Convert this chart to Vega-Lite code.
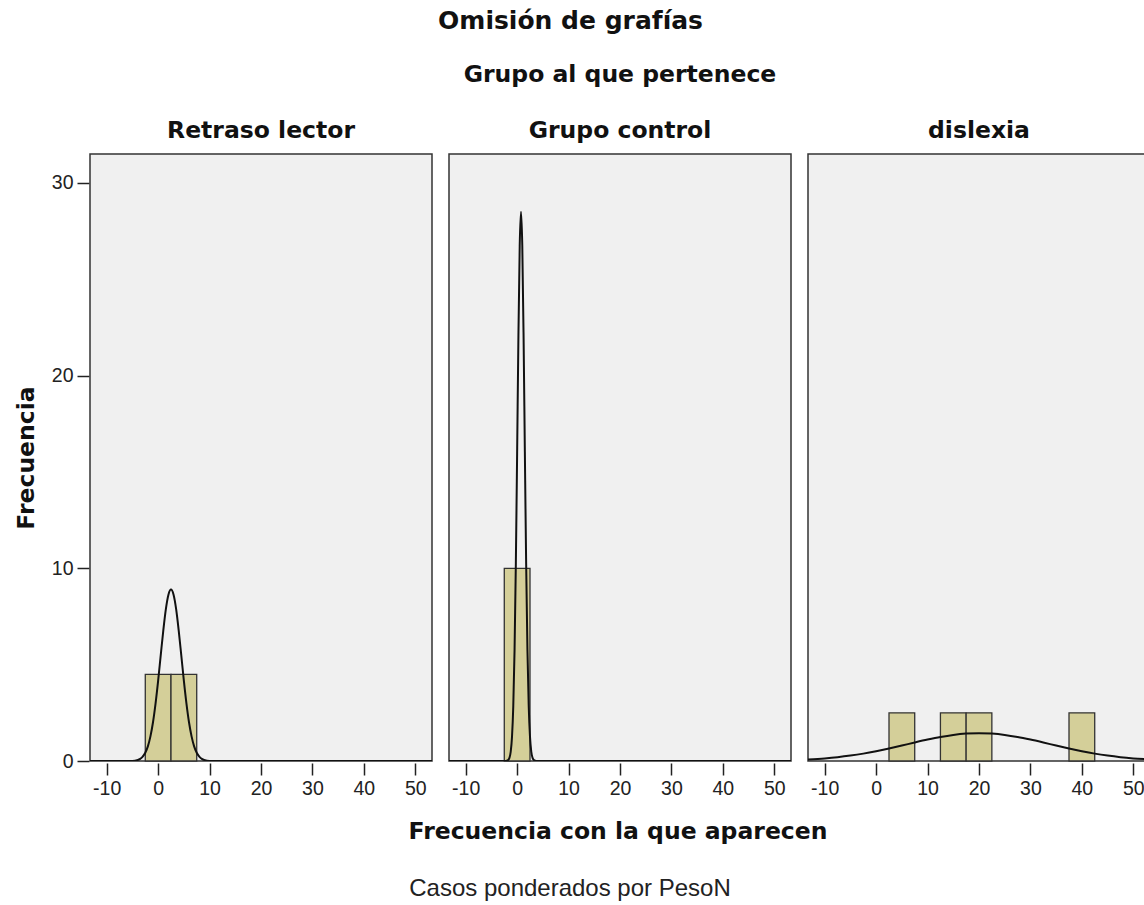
{
  "$schema": "https://vega.github.io/schema/vega-lite/v6.json",
  "background": "white",
  "padding": {"left": 14, "top": 8, "right": 0, "bottom": 0},
  "title": {"text": "Omisión de grafías", "anchor": "middle", "frame": "bounds", "font": "DejaVu Sans", "fontSize": 25, "fontWeight": "bold", "color": "#111", "dx": -12, "offset": 29},
  "datasets": {
    "main": [
      {"grupo": "Retraso lector", "tipo": "barra", "desde": -2.5, "hasta": 2.5, "frecuencia": 4.5},
      {"grupo": "Retraso lector", "tipo": "barra", "desde": 2.5, "hasta": 7.5, "frecuencia": 4.5},
      {"grupo": "Grupo control", "tipo": "barra", "desde": -2.5, "hasta": 2.5, "frecuencia": 10},
      {"grupo": "dislexia", "tipo": "barra", "desde": 2.5, "hasta": 7.5, "frecuencia": 2.5},
      {"grupo": "dislexia", "tipo": "barra", "desde": 12.5, "hasta": 17.5, "frecuencia": 2.5},
      {"grupo": "dislexia", "tipo": "barra", "desde": 17.5, "hasta": 22.5, "frecuencia": 2.5},
      {"grupo": "dislexia", "tipo": "barra", "desde": 37.5, "hasta": 42.5, "frecuencia": 2.5},

      {"grupo": "Retraso lector", "tipo": "curva", "valor": -13.25, "densidad": 0},
      {"grupo": "Retraso lector", "tipo": "curva", "valor": -5.5, "densidad": 0},
      {"grupo": "Retraso lector", "tipo": "curva", "valor": -4.5, "densidad": 0.02},
      {"grupo": "Retraso lector", "tipo": "curva", "valor": -3.5, "densidad": 0.11},
      {"grupo": "Retraso lector", "tipo": "curva", "valor": -3, "densidad": 0.23},
      {"grupo": "Retraso lector", "tipo": "curva", "valor": -2.5, "densidad": 0.43},
      {"grupo": "Retraso lector", "tipo": "curva", "valor": -2, "densidad": 0.76},
      {"grupo": "Retraso lector", "tipo": "curva", "valor": -1.5, "densidad": 1.28},
      {"grupo": "Retraso lector", "tipo": "curva", "valor": -1, "densidad": 2.01},
      {"grupo": "Retraso lector", "tipo": "curva", "valor": -0.5, "densidad": 2.99},
      {"grupo": "Retraso lector", "tipo": "curva", "valor": 0, "densidad": 4.17},
      {"grupo": "Retraso lector", "tipo": "curva", "valor": 0.5, "densidad": 5.48},
      {"grupo": "Retraso lector", "tipo": "curva", "valor": 1, "densidad": 6.77},
      {"grupo": "Retraso lector", "tipo": "curva", "valor": 1.5, "densidad": 7.88},
      {"grupo": "Retraso lector", "tipo": "curva", "valor": 2, "densidad": 8.63},
      {"grupo": "Retraso lector", "tipo": "curva", "valor": 2.5, "densidad": 8.9},
      {"grupo": "Retraso lector", "tipo": "curva", "valor": 3, "densidad": 8.63},
      {"grupo": "Retraso lector", "tipo": "curva", "valor": 3.5, "densidad": 7.88},
      {"grupo": "Retraso lector", "tipo": "curva", "valor": 4, "densidad": 6.77},
      {"grupo": "Retraso lector", "tipo": "curva", "valor": 4.5, "densidad": 5.48},
      {"grupo": "Retraso lector", "tipo": "curva", "valor": 5, "densidad": 4.17},
      {"grupo": "Retraso lector", "tipo": "curva", "valor": 5.5, "densidad": 2.99},
      {"grupo": "Retraso lector", "tipo": "curva", "valor": 6, "densidad": 2.01},
      {"grupo": "Retraso lector", "tipo": "curva", "valor": 6.5, "densidad": 1.28},
      {"grupo": "Retraso lector", "tipo": "curva", "valor": 7, "densidad": 0.76},
      {"grupo": "Retraso lector", "tipo": "curva", "valor": 7.5, "densidad": 0.43},
      {"grupo": "Retraso lector", "tipo": "curva", "valor": 8, "densidad": 0.23},
      {"grupo": "Retraso lector", "tipo": "curva", "valor": 8.5, "densidad": 0.11},
      {"grupo": "Retraso lector", "tipo": "curva", "valor": 9.5, "densidad": 0.02},
      {"grupo": "Retraso lector", "tipo": "curva", "valor": 10.5, "densidad": 0},
      {"grupo": "Retraso lector", "tipo": "curva", "valor": 53.25, "densidad": 0},

      {"grupo": "Grupo control", "tipo": "curva", "valor": -13.25, "densidad": 0},
      {"grupo": "Grupo control", "tipo": "curva", "valor": -2.25, "densidad": 0},
      {"grupo": "Grupo control", "tipo": "curva", "valor": -1.75, "densidad": 0.05},
      {"grupo": "Grupo control", "tipo": "curva", "valor": -1.5, "densidad": 0.16},
      {"grupo": "Grupo control", "tipo": "curva", "valor": -1.25, "densidad": 0.48},
      {"grupo": "Grupo control", "tipo": "curva", "valor": -1, "densidad": 1.25},
      {"grupo": "Grupo control", "tipo": "curva", "valor": -0.75, "densidad": 2.87},
      {"grupo": "Grupo control", "tipo": "curva", "valor": -0.5, "densidad": 5.79},
      {"grupo": "Grupo control", "tipo": "curva", "valor": -0.25, "densidad": 10.27},
      {"grupo": "Grupo control", "tipo": "curva", "valor": 0, "densidad": 16.05},
      {"grupo": "Grupo control", "tipo": "curva", "valor": 0.25, "densidad": 22.08},
      {"grupo": "Grupo control", "tipo": "curva", "valor": 0.5, "densidad": 26.74},
      {"grupo": "Grupo control", "tipo": "curva", "valor": 0.75, "densidad": 28.5},
      {"grupo": "Grupo control", "tipo": "curva", "valor": 1, "densidad": 26.74},
      {"grupo": "Grupo control", "tipo": "curva", "valor": 1.25, "densidad": 22.08},
      {"grupo": "Grupo control", "tipo": "curva", "valor": 1.5, "densidad": 16.05},
      {"grupo": "Grupo control", "tipo": "curva", "valor": 1.75, "densidad": 10.27},
      {"grupo": "Grupo control", "tipo": "curva", "valor": 2, "densidad": 5.79},
      {"grupo": "Grupo control", "tipo": "curva", "valor": 2.25, "densidad": 2.87},
      {"grupo": "Grupo control", "tipo": "curva", "valor": 2.5, "densidad": 1.25},
      {"grupo": "Grupo control", "tipo": "curva", "valor": 2.75, "densidad": 0.48},
      {"grupo": "Grupo control", "tipo": "curva", "valor": 3, "densidad": 0.16},
      {"grupo": "Grupo control", "tipo": "curva", "valor": 3.25, "densidad": 0.05},
      {"grupo": "Grupo control", "tipo": "curva", "valor": 3.75, "densidad": 0},
      {"grupo": "Grupo control", "tipo": "curva", "valor": 53.25, "densidad": 0},

      {"grupo": "dislexia", "tipo": "curva", "valor": -13.25, "densidad": 0.079},
      {"grupo": "dislexia", "tipo": "curva", "valor": -10, "densidad": 0.136},
      {"grupo": "dislexia", "tipo": "curva", "valor": -7.5, "densidad": 0.198},
      {"grupo": "dislexia", "tipo": "curva", "valor": -5, "densidad": 0.28},
      {"grupo": "dislexia", "tipo": "curva", "valor": -2.5, "densidad": 0.382},
      {"grupo": "dislexia", "tipo": "curva", "valor": 0, "densidad": 0.506},
      {"grupo": "dislexia", "tipo": "curva", "valor": 2.5, "densidad": 0.647},
      {"grupo": "dislexia", "tipo": "curva", "valor": 5, "densidad": 0.8},
      {"grupo": "dislexia", "tipo": "curva", "valor": 7.5, "densidad": 0.959},
      {"grupo": "dislexia", "tipo": "curva", "valor": 10, "densidad": 1.111},
      {"grupo": "dislexia", "tipo": "curva", "valor": 12.5, "densidad": 1.247},
      {"grupo": "dislexia", "tipo": "curva", "valor": 15, "densidad": 1.353},
      {"grupo": "dislexia", "tipo": "curva", "valor": 17.5, "densidad": 1.421},
      {"grupo": "dislexia", "tipo": "curva", "valor": 20, "densidad": 1.445},
      {"grupo": "dislexia", "tipo": "curva", "valor": 22.5, "densidad": 1.421},
      {"grupo": "dislexia", "tipo": "curva", "valor": 25, "densidad": 1.353},
      {"grupo": "dislexia", "tipo": "curva", "valor": 27.5, "densidad": 1.247},
      {"grupo": "dislexia", "tipo": "curva", "valor": 30, "densidad": 1.111},
      {"grupo": "dislexia", "tipo": "curva", "valor": 32.5, "densidad": 0.959},
      {"grupo": "dislexia", "tipo": "curva", "valor": 35, "densidad": 0.8},
      {"grupo": "dislexia", "tipo": "curva", "valor": 37.5, "densidad": 0.647},
      {"grupo": "dislexia", "tipo": "curva", "valor": 40, "densidad": 0.506},
      {"grupo": "dislexia", "tipo": "curva", "valor": 42.5, "densidad": 0.382},
      {"grupo": "dislexia", "tipo": "curva", "valor": 45, "densidad": 0.28},
      {"grupo": "dislexia", "tipo": "curva", "valor": 47.5, "densidad": 0.198},
      {"grupo": "dislexia", "tipo": "curva", "valor": 50, "densidad": 0.136},
      {"grupo": "dislexia", "tipo": "curva", "valor": 53.25, "densidad": 0.079}
    ]
  },
  "spacing": 21,
  "vconcat": [
    {
      "data": {"name": "main"},
      "spacing": 15,
      "facet": {
        "column": {
          "field": "grupo",
          "type": "nominal",
          "sort": ["Retraso lector", "Grupo control", "dislexia"],
          "title": "Grupo al que pertenece"
        }
      },
      "spec": {
        "width": 342,
        "height": 607,
        "layer": [
          {
            "transform": [{"filter": "datum.tipo === 'barra'"}],
            "mark": {"type": "rect", "fill": "#d4cf99", "stroke": "#333", "strokeWidth": 1.3},
            "encoding": {
              "x": {
                "field": "desde",
                "type": "quantitative",
                "scale": {"domain": [-13.25, 53.25], "nice": false, "zero": false},
                "axis": {"title": null, "values": [-10, 0, 10, 20, 30, 40, 50], "labelExpr": "replace(datum.label, '\u2212', '-')"}
              },
              "x2": {"field": "hasta"},
              "y": {
                "field": "frecuencia",
                "type": "quantitative",
                "scale": {"domain": [0, 31.5], "nice": false},
                "axis": {"title": "Frecuencia", "values": [0, 10, 20, 30]}
              },
              "y2": {"datum": 0}
            }
          },
          {
            "transform": [{"filter": "datum.tipo === 'curva'"}],
            "mark": {"type": "line", "color": "#111", "strokeWidth": 2, "interpolate": "monotone", "clip": true},
            "encoding": {
              "x": {"field": "valor", "type": "quantitative", "axis": {"title": null, "values": [-10, 0, 10, 20, 30, 40, 50], "labelExpr": "replace(datum.label, '\u2212', '-')"}},
              "y": {"field": "densidad", "type": "quantitative", "axis": {"title": "Frecuencia", "values": [0, 10, 20, 30]}},
              "order": {"field": "valor", "type": "quantitative"}
            }
          }
        ]
      }
    },
    {
      "data": {"values": [{"nota": "Casos ponderados por PesoN"}]},
      "width": 960,
      "height": 24,
      "view": {"stroke": null, "fill": null},
      "title": {"text": "Frecuencia con la que aparecen", "anchor": "middle", "frame": "group", "font": "DejaVu Sans", "fontSize": 23.5, "fontWeight": "bold", "color": "#111", "dx": 48, "offset": 34},
      "mark": {"type": "text", "font": "Liberation Sans", "fontSize": 24, "color": "#222", "baseline": "middle"},
      "encoding": {"text": {"field": "nota", "type": "nominal"}}
    }
  ],
  "config": {
    "view": {"fill": "#f0f0f0", "stroke": "#333", "strokeWidth": 1.5},
    "axis": {
      "labelFont": "Liberation Sans",
      "labelFontSize": 19.5,
      "labelColor": "#222",
      "labelPadding": 4,
      "tickColor": "#222",
      "tickWidth": 1.5,
      "tickSize": 12,
      "domain": false,
      "grid": false,
      "titleFont": "DejaVu Sans",
      "titleFontSize": 23.5,
      "titleFontWeight": "bold",
      "titleColor": "#111",
      "titlePadding": 13
    },
    "header": {
      "titleFont": "DejaVu Sans",
      "titleFontSize": 23.5,
      "titleFontWeight": "bold",
      "titleColor": "#111",
      "titlePadding": 22,
      "labelFont": "DejaVu Sans",
      "labelFontSize": 23.5,
      "labelFontWeight": "bold",
      "labelColor": "#111",
      "labelPadding": 11
    }
  }
}
